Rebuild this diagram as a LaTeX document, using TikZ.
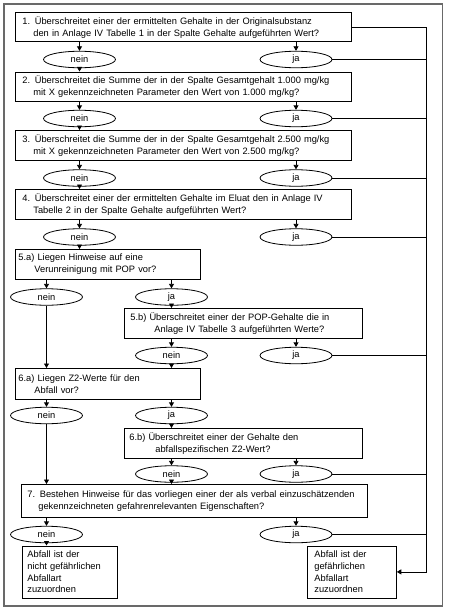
\documentclass[tikz,border=0pt]{standalone}
\usepackage{fontspec}
\setmainfont{Liberation Sans}
\usetikzlibrary{shapes.geometric,arrows.meta}
\definecolor{framegray}{RGB}{105,105,105}
\begin{document}
\begin{tikzpicture}[x=1pt,y=-1pt,
  txt/.style={font=\fontsize{9.3}{11.7}\selectfont},
  qbox/.style={txt, draw, line width=0.8pt, anchor=north west, align=left, inner ysep=0pt},
  oval/.style={txt, draw, ellipse, line width=0.8pt, minimum width=72pt, minimum height=16.5pt, inner sep=0pt},
  arr/.style={line width=0.8pt, -{Triangle[width=5pt,length=4.5pt]}},
  ln/.style={line width=0.8pt}
]
\useasboundingbox (0,0) rectangle (451,610);
\draw[line width=1.6pt, draw=framegray] (4,4) rectangle (442.5,606);

% question boxes
\node[qbox, inner xsep=7pt, text width=322pt, minimum height=29pt] (b1) at (15,12.5)
  {\mbox{1. Überschreitet einer der ermittelten Gehalte in der Originalsubstanz}\\\mbox{\hspace*{11pt}den in Anlage IV Tabelle 1 in der Spalte Gehalte aufgeführten Wert?}};
\node[qbox, inner xsep=7pt, text width=322pt, minimum height=29pt] (b2) at (15,71.5)
  {\mbox{2. Überschreitet die Summe der in der Spalte Gesamtgehalt 1.000 mg/kg}\\\mbox{\hspace*{11pt}mit X gekennzeichneten Parameter den Wert von 1.000 mg/kg?}};
\node[qbox, inner xsep=7pt, text width=322pt, minimum height=30pt] (b3) at (15,130)
  {\mbox{3. Überschreitet die Summe der in der Spalte Gesamtgehalt 2.500 mg/kg}\\\mbox{\hspace*{11pt}mit X gekennzeichneten Parameter den Wert von 2.500 mg/kg?}};
\node[qbox, inner xsep=7pt, text width=322pt, minimum height=30pt] (b4) at (15,189)
  {\mbox{4. Überschreitet einer der ermittelten Gehalte im Eluat den in Anlage IV}\\\mbox{\hspace*{11pt}Tabelle 2 in der Spalte Gehalte aufgeführten Wert?}};
\node[qbox, inner xsep=3pt, text width=179pt, minimum height=30pt] (b5a) at (15,249)
  {\mbox{5.a) Liegen Hinweise auf eine}\\\mbox{\hspace*{16pt}Verunreinigung mit POP vor?}};
\node[qbox, inner xsep=6pt, text width=226pt, minimum height=30pt] (b5b) at (124,308)
  {\mbox{5.b) Überschreitet einer der POP-Gehalte die in}\\\mbox{\hspace*{24pt}Anlage IV Tabelle 3 aufgeführten Werte?}};
\node[qbox, inner xsep=3pt, text width=179pt, minimum height=31pt] (b6a) at (15,368)
  {\mbox{6.a) Liegen Z2-Werte für den}\\\mbox{\hspace*{16pt}Abfall vor?}};
\node[qbox, inner xsep=5pt, text width=228pt, minimum height=30pt] (b6b) at (124,428)
  {\mbox{6.b) Überschreitet einer der Gehalte den}\\\mbox{\hspace*{26pt}abfallspezifischen Z2-Wert?}};
\node[qbox, inner xsep=6pt, text width=334pt, minimum height=33pt] (b7) at (21,484)
  {\mbox{7. Bestehen Hinweise für das vorliegen einer der als verbal einzuschätzenden}\\\mbox{\hspace*{11pt}gekennzeichneten gefahrenrelevanten Eigenschaften?}};
% result boxes
\node[qbox, inner xsep=5pt, text width=85pt, minimum height=52pt] (fl) at (22,545.5)
  {Abfall ist der\\nicht gefährlichen\\Abfallart\\zuzuordnen};
\node[qbox, inner xsep=7pt, text width=75pt, minimum height=52pt] (fr) at (307,545.5)
  {Abfall ist der\\gefährlichen\\Abfallart\\zuzuordnen};

% answer ovals
\node[oval] (n1) at (79.5,59.5) {nein};
\node[oval] (j1) at (296,59.5) {ja};
\node[oval] (n2) at (79.5,118.5) {nein};
\node[oval] (j2) at (296,118.5) {ja};
\node[oval] (n3) at (79.5,178) {nein};
\node[oval] (j3) at (296,178) {ja};
\node[oval] (n4) at (79.5,237) {nein};
\node[oval] (j4) at (296,237) {ja};
\node[oval] (n5a) at (46.5,297) {nein};
\node[oval] (j5a) at (171.5,297) {ja};
\node[oval] (n5b) at (171.5,355.5) {nein};
\node[oval] (j5b) at (296,355.5) {ja};
\node[oval] (n6a) at (46.5,415.5) {nein};
\node[oval] (j6a) at (171.5,415.5) {ja};
\node[oval] (n6b) at (171.5,474) {nein};
\node[oval] (j6b) at (296,474) {ja};
\node[oval] (n7) at (46.5,534.5) {nein};
\node[oval] (j7) at (296,534.5) {ja};

\coordinate (rx) at (426,0);

% box -> ovals
\foreach \b/\n/\j in {b1/n1/j1, b2/n2/j2, b3/n3/j3, b4/n4/j4, b5a/n5a/j5a, b5b/n5b/j5b, b6a/n6a/j6a, b6b/n6b/j6b, b7/n7/j7}{
  \draw[arr] (\n.north |- \b.south) -- (\n.north);
  \draw[arr] (\j.north |- \b.south) -- (\j.north);
}
% nein -> next box
\draw[arr] (n1.south) -- (n1.south |- b2.north);
\draw[arr] (n2.south) -- (n2.south |- b3.north);
\draw[arr] (n3.south) -- (n3.south |- b4.north);
\draw[arr] (n4.south) -- (n4.south |- b5a.north);
\draw[arr] (j5a.south) -- (j5a.south |- b5b.north);
\draw[arr] (n5a.south) -- (n5a.south |- b6a.north);
\draw[arr] (n5b.south) -- (n5b.south |- b6a.north);
\draw[arr] (j6a.south) -- (j6a.south |- b6b.north);
\draw[arr] (n6a.south) -- (n6a.south |- b7.north);
\draw[arr] (n6b.south) -- (n6b.south |- b7.north);
\draw[arr] (n7.south) -- (n7.south |- fl.north);

% right spine
\draw[arr] (b1.east) -- (b1.east -| rx) |- (fr.east);
\foreach \j in {j1,j2,j3,j4,j5b,j6b,j7}{
  \draw[ln] (\j.east) -- (\j.east -| rx);
}
\end{tikzpicture}
\end{document}
